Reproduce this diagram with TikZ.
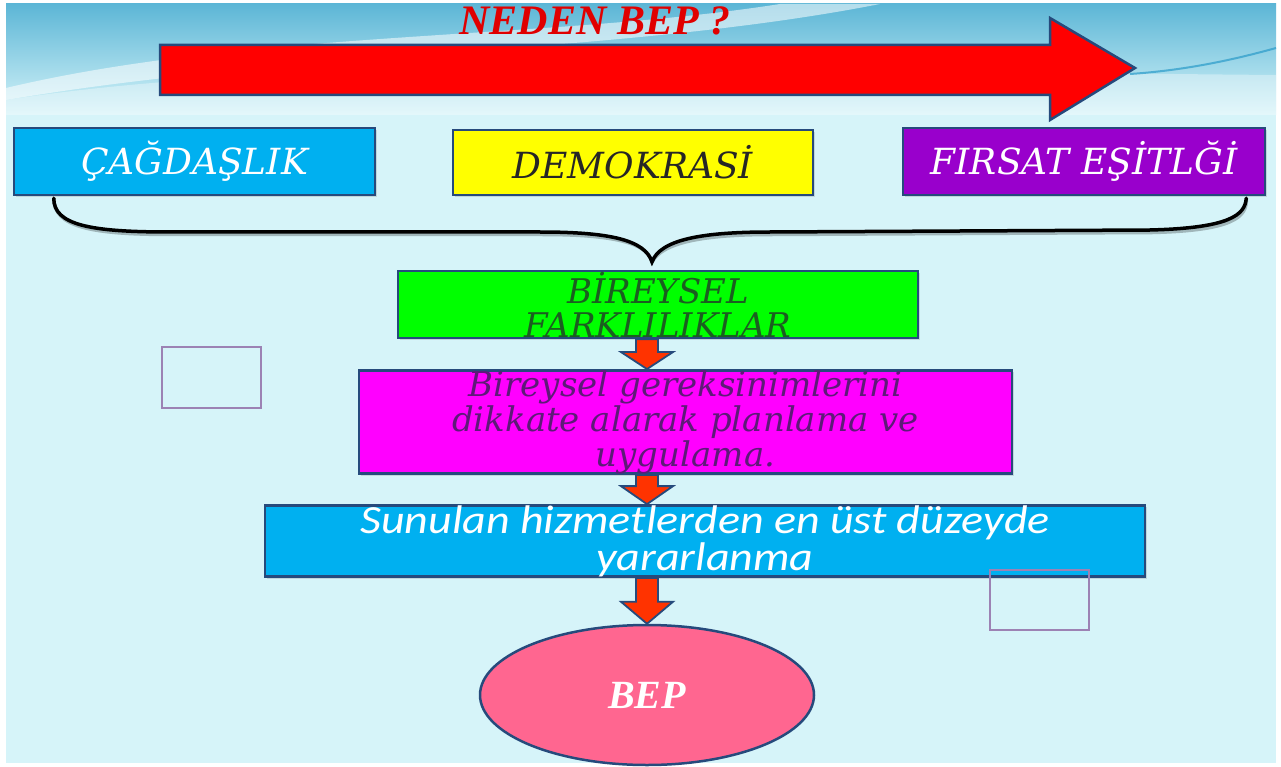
\documentclass[tikz,border=0pt]{standalone}
\usepackage{fontspec}
\setmainfont{Liberation Serif}
\newfontfamily\dvs{DejaVu Serif}
\newfontfamily\carlw[FakeStretch=1.15]{Carlito}
\usetikzlibrary{calc,shapes.geometric,shadows}
\definecolor{bg}{HTML}{D6F4F9}
\definecolor{bgtop}{HTML}{5CB6D6}
\definecolor{bord}{HTML}{264A7C}
\definecolor{cyanbox}{HTML}{00B0F0}
\definecolor{purp}{HTML}{9900CC}
\definecolor{magbox}{HTML}{FF00FF}
\definecolor{greenbox}{HTML}{00FF00}
\definecolor{yellowbox}{HTML}{FFFF00}
\definecolor{arrowred}{HTML}{FF3300}
\definecolor{bigred}{HTML}{FF0000}
\definecolor{pinkbep}{HTML}{FF6690}
\definecolor{sqline}{HTML}{9C82B4}
\definecolor{dgreen}{HTML}{1B5E20}
\definecolor{dpurp}{HTML}{5E1A78}
\definecolor{titlered}{HTML}{E00000}
\tikzset{
  box/.style={draw=bord, line width=2.5pt, rectangle, inner sep=0pt, align=center,
              drop shadow={shadow xshift=2pt, shadow yshift=-2pt, opacity=0.25}},
  capfont/.style={font=\dvs\itshape\fontsize{36}{40}\selectfont},
  downarrow/.style={fill=arrowred, draw=bord, line width=1.8pt, line join=miter},
  emptysq/.style={draw=sqline, line width=1.3pt, rectangle, inner sep=0pt},
  bracepath/.style={line width=3.5pt, line cap=round}
}
\newcommand\fatarrow[3]{%
  \path[downarrow] let \p1=(#1), \p2=(#2) in
    (\x1-11pt,\y1) -- (\x1+11pt,\y1) -- (\x1+11pt,\y2+#3) -- (\x1+26pt,\y2+#3)
    -- (\x1,\y2) -- (\x1-26pt,\y2+#3) -- (\x1-11pt,\y2+#3) -- cycle;}
\begin{document}
\begin{tikzpicture}[x=1pt,y=-1pt]
\useasboundingbox (0,0) rectangle (1281,767);
\fill[white] (0,0) rectangle (1281,767);
% background
\fill[bg] (6,4) rectangle (1276,763);
\fill[top color=bgtop, bottom color=bg] (6,4) rectangle (1276,115);
\fill[white, opacity=0.55] (6,88) .. controls (250,30) and (550,40) .. (780,4) -- (880,4)
  .. controls (620,55) and (300,50) .. (6,100) -- cycle;
\fill[white, opacity=0.35] (6,100) .. controls (300,55) and (700,70) .. (1276,75) -- (1276,115) -- (6,115) -- cycle;
\draw[cyan!60!teal, line width=2pt, opacity=0.7] (1130,74) .. controls (1190,70) and (1240,58) .. (1276,48);

% title and big arrow
\node[font=\bfseries\itshape\fontsize{42}{46}\selectfont, text=titlered] (title) at (595,21) {NEDEN BEP ?};
\path[fill=bigred, draw=bord, line width=2.5pt, line join=miter]
  (160,45) -- (1050,45) -- (1050,18) -- (1135,68) -- (1050,120) -- (1050,95) -- (160,95) -- cycle;

% top boxes
\node[box, fill=cyanbox, minimum width=361pt, minimum height=67pt, capfont, text=white] (cag) at (194.5,161.5) {ÇAĞDAŞLIK};
\node[box, fill=yellowbox, minimum width=360pt, minimum height=65pt, capfont, text=black!85] (dem) at (633,162.5) {DEMOKRASİ};
\node[box, fill=purp, minimum width=362pt, minimum height=67pt, capfont, text=white] (fir) at (1084,161.5) {FIRSAT EŞİTLĞİ};

% brace
\coordinate (bl) at ($(cag.south west)+(41,2)$);
\coordinate (br) at ($(fir.south east)+(-20,2)$);
\coordinate (tip) at (652,262);
\foreach \dx/\dy/\col/\op in {2.5/2.5/black/0.25, 0/0/black/1}{
\draw[bracepath, draw=\col, opacity=\op, shift={(\dx,\dy)}]
  (bl) .. controls (bl|-0,225) and (90,232) .. (170,232) -- (540,232)
  .. controls (610,232) and (645,240) .. (tip)
  .. controls (660,240) and (700,232) .. (770,232) -- (1150,230)
  .. controls (1230,228) and (1245,215) .. (br);
}

% flow boxes
\node[box, fill=greenbox, minimum width=520pt, minimum height=67pt,
      font=\dvs\itshape\fontsize{34}{34}\selectfont, text=dgreen] (grn) at (658,304.5) {BİREYSEL\\FARKLILIKLAR};
\node[box, fill=magbox, minimum width=653pt, minimum height=100pt,
      font=\dvs\itshape\fontsize{34}{35}\selectfont, text=dpurp] (mag) at (685.5,422)
  {Bireysel gereksinimlerini\\dikkate alarak planlama ve\\uygulama.};
\node[box, fill=cyanbox, minimum width=880pt, minimum height=68pt,
      font=\carlw\itshape\fontsize{40}{37}\selectfont, text=white] (sun) at (705,541)
  {Sunulan hizmetlerden en üst düzeyde\\yararlanma};
\node[ellipse, draw=bord, line width=2.5pt, fill=pinkbep, minimum width=334pt, minimum height=140pt,
      inner sep=0pt, font=\bfseries\itshape\fontsize{40}{40}\selectfont, text=white] (bep) at (647,695) {BEP};

% empty squares
\node[emptysq, minimum width=99pt, minimum height=61pt] (sq1) at (211.5,377.5) {};
\node[emptysq, minimum width=99pt, minimum height=60pt] (sq2) at (1039.5,600) {};

% arrows
\fatarrow{grn.south -| bep.center}{mag.north -| bep.center}{17pt}
\fatarrow{mag.south -| bep.center}{sun.north -| bep.center}{18pt}
\fatarrow{sun.south -| bep.center}{bep.north}{22pt}
\end{tikzpicture}
\end{document}
